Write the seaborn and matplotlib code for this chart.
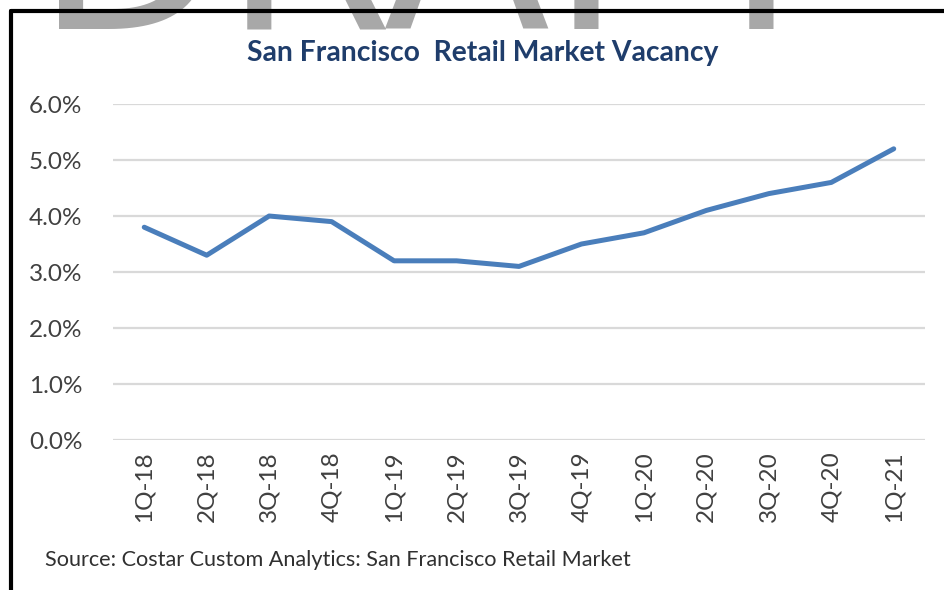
import matplotlib
matplotlib.use("Agg")
import matplotlib.pyplot as plt
import seaborn as sns
import pandas as pd
from matplotlib.lines import Line2D
from matplotlib.ticker import PercentFormatter

# data
quarters = ["1Q-18", "2Q-18", "3Q-18", "4Q-18", "1Q-19", "2Q-19", "3Q-19",
            "4Q-19", "1Q-20", "2Q-20", "3Q-20", "4Q-20", "1Q-21"]
vacancy = [0.038, 0.033, 0.040, 0.039, 0.032, 0.032, 0.031,
           0.035, 0.037, 0.041, 0.044, 0.046, 0.052]
y_ticks = [0.0, 0.01, 0.02, 0.03, 0.04, 0.05, 0.06]

df = pd.DataFrame({"Quarter": quarters, "Vacancy": vacancy})

sns.set_style("white")
plt.rcParams["font.family"] = ["Lato", "DejaVu Sans"]

fig = plt.figure(figsize=(9.45, 5.9), dpi=100)
ax = fig.add_axes([0.1196, 0.2542, 0.8592, 0.5695])

# watermark behind everything
fig.text(0.037, 1 - 30 / 590, "DRAFT", fontsize=176, color="#a8a8a8",
         ha="left", va="baseline", family="DejaVu Sans", zorder=0)

sns.lineplot(data=df, x="Quarter", y="Vacancy", ax=ax, color="#4a7ebb",
             linewidth=3.6, sort=False, zorder=3)

ax.set_xlim(-0.5, len(quarters) - 0.5)
ax.set_ylim(0, 0.06)
ax.set_yticks(y_ticks)
ax.yaxis.set_major_formatter(PercentFormatter(1.0, decimals=1))
ax.grid(axis="y", color="#d9d9d9", linewidth=1.6)
ax.grid(axis="x", visible=False)
ax.set_axisbelow(True)
for s in ax.spines.values():
    s.set_visible(False)
ax.set_xlabel("")
ax.set_ylabel("")
ax.tick_params(axis="y", labelsize=17.5, labelcolor="#404040", length=0, pad=22)
ax.tick_params(axis="x", labelsize=17.5, labelcolor="#404040", length=0, pad=8,
               labelrotation=90)

fig.text(0.511, 1 - 53 / 590, "San Francisco  Retail Market Vacancy",
         fontsize=20.3, fontweight="bold", color="#1f3d6b",
         ha="center", va="center")
fig.text(45 / 945, 1 - 560 / 590,
         "Source: Costar Custom Analytics: San Francisco Retail Market",
         fontsize=15.6, color="#303030", ha="left", va="center")

# frame
fig.add_artist(Line2D([11 / 945, 11 / 945], [0, 1 - 11 / 590], color="black",
                      linewidth=3, transform=fig.transFigure, zorder=5))
fig.add_artist(Line2D([11 / 945, 1], [1 - 11 / 590, 1 - 11 / 590], color="black",
                      linewidth=3, transform=fig.transFigure, zorder=5))

fig.savefig("out.png", dpi=100, facecolor="white")
